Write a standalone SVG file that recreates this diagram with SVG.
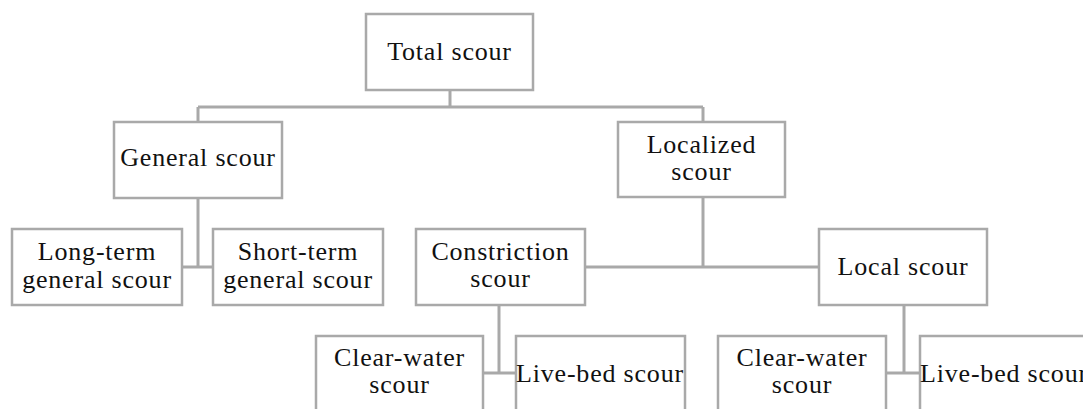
<svg xmlns="http://www.w3.org/2000/svg" width="1083" height="409" viewBox="0 0 1083 409">
<style>
.box{fill:#fff;stroke:#a9a9a9;stroke-width:2.5}
.ln{fill:none;stroke:#a9a9a9;stroke-width:3}
text{font-family:"Liberation Serif","Times New Roman",serif;font-size:26px;letter-spacing:0.8px;fill:#111;text-anchor:middle}
</style>
<rect width="1083" height="409" fill="#fff"/>
<g id="connectors">
<path class="ln" d="M450 90 V107 M198 107 H703 M198 107 V122 M703 107 V122"/>
<path class="ln" d="M198 198 V267 M182 267 H213"/>
<path class="ln" d="M703 197 V267 M585 267 H819"/>
<path class="ln" d="M499 305 V373 M483 373 H516"/>
<path class="ln" d="M904 305 V373 M886 373 H920"/>
</g>
<g id="total"><rect class="box" x="366" y="14" width="167" height="76"/><text x="449.5" y="60">Total scour</text></g>
<g id="general"><rect class="box" x="114" y="122" width="168" height="76"/><text x="198" y="166">General scour</text></g>
<g id="localized"><rect class="box" x="618" y="122" width="167" height="75"/><text x="701.5" y="153">Localized</text><text x="701.5" y="180">scour</text></g>
<g id="longterm"><rect class="box" x="12" y="229" width="170" height="76"/><text x="97" y="260">Long-term</text><text x="97" y="288">general scour</text></g>
<g id="shortterm"><rect class="box" x="213" y="229" width="170" height="76"/><text x="298" y="260">Short-term</text><text x="298" y="288">general scour</text></g>
<g id="constriction"><rect class="box" x="416" y="229" width="169" height="76"/><text x="500.5" y="260">Constriction</text><text x="500.5" y="287">scour</text></g>
<g id="local"><rect class="box" x="819" y="229" width="168" height="76"/><text x="903" y="275">Local scour</text></g>
<g id="clearwater1"><rect class="box" x="316" y="336" width="167" height="80"/><text x="399.5" y="366">Clear-water</text><text x="399.5" y="393">scour</text></g>
<g id="livebed1"><rect class="box" x="516" y="336" width="169" height="80"/><text x="600" y="382">Live-bed scour</text></g>
<g id="clearwater2"><rect class="box" x="718" y="336" width="168" height="80"/><text x="802" y="366">Clear-water</text><text x="802" y="393">scour</text></g>
<g id="livebed2"><rect class="box" x="920" y="336" width="169" height="80"/><text x="1004" y="382">Live-bed scour</text></g>
</svg>
